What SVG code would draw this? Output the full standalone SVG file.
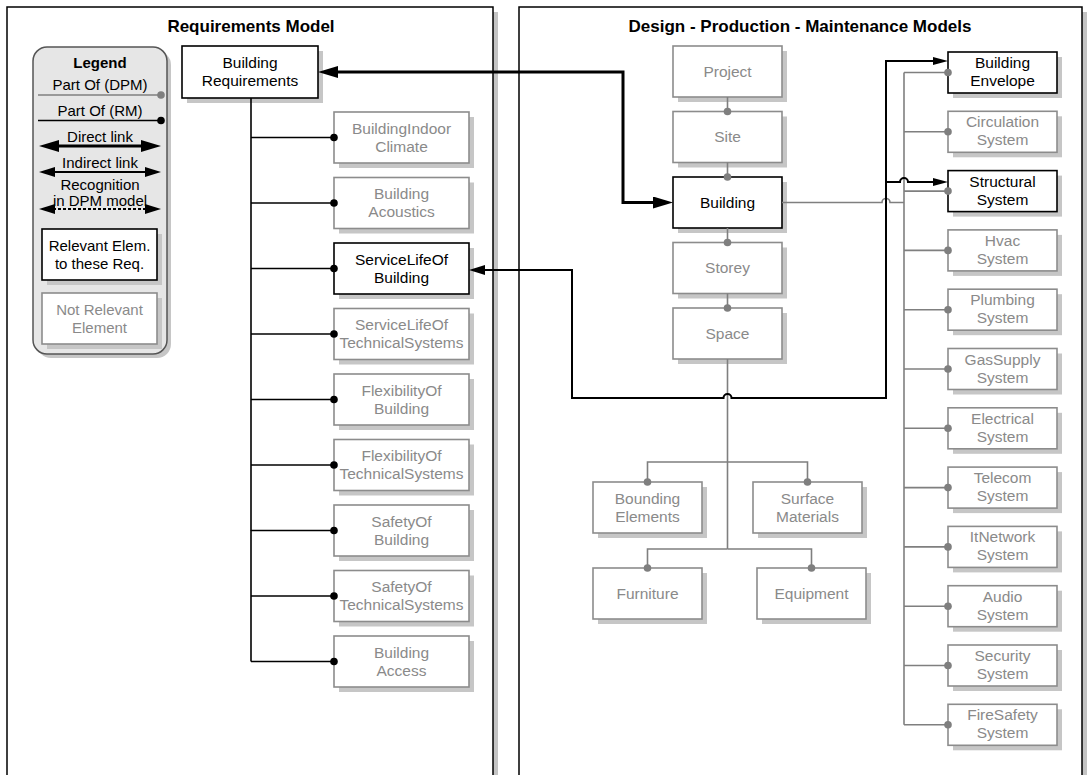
<svg xmlns="http://www.w3.org/2000/svg" width="1087" height="775" viewBox="0 0 1087 775">
  <defs>
    <style>
      .panel { fill: #fff; stroke: #000; stroke-width: 1.5; }
      .pshadow { fill: #c4c4c4; }
      .shadow { fill: #c6c6c6; }
      .box { fill: #fff; stroke: #000; stroke-width: 1.6; }
      .box.off { stroke: #8c8c8c; }
      .t { font-family: "Liberation Sans", Arial, sans-serif; font-size: 15.5px; text-anchor: middle; fill: #000; }
      .hdr { font-family: "Liberation Sans", Arial, sans-serif; font-size: 17px; font-weight: bold; text-anchor: middle; fill: #000; }
      .lg { font-family: "Liberation Sans", Arial, sans-serif; font-size: 15px; text-anchor: middle; fill: #000; }
      .t.toff, .lg.toff { fill: #8a8a8a; }
      .rm { fill: none; stroke: #000; stroke-width: 1.6; }
      .dpm { fill: none; stroke: #7f7f7f; stroke-width: 1.6; }
      .direct { fill: none; stroke: #000; stroke-width: 3; }
      .indirect { fill: none; stroke: #000; stroke-width: 2; }
      .recog { fill: none; stroke: #000; stroke-width: 2; stroke-dasharray: 3 2; }
    </style>
    <marker id="dotK" markerUnits="userSpaceOnUse" viewBox="-5 -5 10 10" markerWidth="10" markerHeight="10" refX="0" refY="0" orient="auto">
      <circle r="3.8" fill="#000"/>
    </marker>
    <marker id="dotG" markerUnits="userSpaceOnUse" viewBox="-5 -5 10 10" markerWidth="10" markerHeight="10" refX="0" refY="0" orient="auto">
      <circle r="3.8" fill="#7f7f7f"/>
    </marker>
    <marker id="arrowBig" markerUnits="userSpaceOnUse" viewBox="0 0 20 12" markerWidth="20" markerHeight="12" refX="2" refY="6" orient="auto-start-reverse">
      <path d="M0,0 L20,6 L0,12 z" fill="#000"/>
    </marker>
    <marker id="arrowMid" markerUnits="userSpaceOnUse" viewBox="0 0 16 10" markerWidth="16" markerHeight="10" refX="2" refY="5" orient="auto-start-reverse">
      <path d="M0,0 L16,5 L0,10 z" fill="#000"/>
    </marker>
    <marker id="arrowSmall" markerUnits="userSpaceOnUse" viewBox="0 0 15 8" markerWidth="15" markerHeight="8" refX="2" refY="4" orient="auto-start-reverse">
      <path d="M0,0 L15,4 L0,8 z" fill="#000"/>
    </marker>
  </defs>

  <rect width="1087" height="775" fill="#fff"/>

  <!-- Panels -->
  <g id="panel-rm">
    <rect class="pshadow" x="12" y="12" width="486" height="775"/>
    <rect class="panel" x="7" y="7" width="486" height="775"/>
    <text class="hdr" x="251" y="32">Requirements Model</text>
  </g>
  <g id="panel-dpm">
    <rect class="pshadow" x="524" y="12" width="563" height="775"/>
    <rect class="panel" x="519" y="7" width="563" height="775"/>
    <text class="hdr" x="800" y="32">Design - Production - Maintenance Models</text>
  </g>

  <!-- Legend -->
  <g id="legend">
    <rect x="37" y="51" width="134" height="307" rx="14" fill="#c6c6c6"/>
    <rect x="33" y="47" width="134" height="307" rx="14" fill="#e6e6e6" stroke="#555" stroke-width="1.5"/>
    <text class="lg" x="100" y="68" font-weight="bold" font-size="16.5">Legend</text>
    <text class="lg" x="100" y="90">Part Of (DPM)</text>
    <path class="dpm" d="M38,95 H161" marker-end="url(#dotG)"/>
    <text class="lg" x="100" y="116">Part Of (RM)</text>
    <path class="rm" d="M38,120.5 H161" marker-end="url(#dotK)"/>
    <text class="lg" x="100" y="142">Direct link</text>
    <path class="direct" d="M57,146 H143" marker-start="url(#arrowBig)" marker-end="url(#arrowBig)"/>
    <text class="lg" x="100" y="168">Indirect link</text>
    <path class="indirect" d="M53,172 H147" marker-start="url(#arrowMid)" marker-end="url(#arrowMid)"/>
    <text class="lg" x="100" y="190">Recognition</text>
    <text class="lg" x="100" y="206">in DPM model</text>
    <path class="recog" d="M53,209 H147" marker-start="url(#arrowMid)" marker-end="url(#arrowMid)"/>
    <rect class="shadow" x="47" y="234" width="115" height="51"/>
    <rect class="box" x="42" y="229" width="115" height="51"/>
    <text class="lg" x="99.5" y="251">Relevant Elem.</text>
    <text class="lg" x="99.5" y="269">to these Req.</text>
    <rect class="shadow" x="47" y="298" width="115" height="51"/>
    <rect class="box off" x="42" y="293" width="115" height="51"/>
    <text class="lg toff" x="99.5" y="315">Not Relevant</text>
    <text class="lg toff" x="99.5" y="333">Element</text>
  </g>

  <!-- Requirements model nodes -->
  <g id="building-requirements">
    <rect class="shadow" x="187" y="51" width="136" height="52"/>
    <rect class="box" x="182" y="46" width="136" height="52"/>
    <text class="t" x="250" y="68">Building</text>
    <text class="t" x="250" y="86">Requirements</text>
  </g>
  <g id="building-indoor-climate">
    <rect class="shadow" x="339" y="117" width="135" height="51"/>
    <rect class="box off" x="334" y="112" width="135" height="51"/>
    <text class="t toff" x="401.5" y="133.5">BuildingIndoor</text>
    <text class="t toff" x="401.5" y="151.5">Climate</text>
  </g>
  <g id="building-acoustics">
    <rect class="shadow" x="339" y="182.5" width="135" height="51"/>
    <rect class="box off" x="334" y="177.5" width="135" height="51"/>
    <text class="t toff" x="401.5" y="199">Building</text>
    <text class="t toff" x="401.5" y="217">Acoustics</text>
  </g>
  <g id="service-life-of-building">
    <rect class="shadow" x="339" y="248" width="135" height="51"/>
    <rect class="box" x="334" y="243" width="135" height="51"/>
    <text class="t" x="401.5" y="264.5">ServiceLifeOf</text>
    <text class="t" x="401.5" y="282.5">Building</text>
  </g>
  <g id="service-life-of-technical-systems">
    <rect class="shadow" x="339" y="313.5" width="135" height="51"/>
    <rect class="box off" x="334" y="308.5" width="135" height="51"/>
    <text class="t toff" x="401.5" y="330">ServiceLifeOf</text>
    <text class="t toff" x="401.5" y="348">TechnicalSystems</text>
  </g>
  <g id="flexibility-of-building">
    <rect class="shadow" x="339" y="379" width="135" height="51"/>
    <rect class="box off" x="334" y="374" width="135" height="51"/>
    <text class="t toff" x="401.5" y="395.5">FlexibilityOf</text>
    <text class="t toff" x="401.5" y="413.5">Building</text>
  </g>
  <g id="flexibility-of-technical-systems">
    <rect class="shadow" x="339" y="444.5" width="135" height="51"/>
    <rect class="box off" x="334" y="439.5" width="135" height="51"/>
    <text class="t toff" x="401.5" y="461">FlexibilityOf</text>
    <text class="t toff" x="401.5" y="479">TechnicalSystems</text>
  </g>
  <g id="safety-of-building">
    <rect class="shadow" x="339" y="510" width="135" height="51"/>
    <rect class="box off" x="334" y="505" width="135" height="51"/>
    <text class="t toff" x="401.5" y="526.5">SafetyOf</text>
    <text class="t toff" x="401.5" y="544.5">Building</text>
  </g>
  <g id="safety-of-technical-systems">
    <rect class="shadow" x="339" y="575.5" width="135" height="51"/>
    <rect class="box off" x="334" y="570.5" width="135" height="51"/>
    <text class="t toff" x="401.5" y="592">SafetyOf</text>
    <text class="t toff" x="401.5" y="610">TechnicalSystems</text>
  </g>
  <g id="building-access">
    <rect class="shadow" x="339" y="641" width="135" height="51"/>
    <rect class="box off" x="334" y="636" width="135" height="51"/>
    <text class="t toff" x="401.5" y="657.5">Building</text>
    <text class="t toff" x="401.5" y="675.5">Access</text>
  </g>

  <!-- Spatial nodes -->
  <g id="project">
    <rect class="shadow" x="678" y="51" width="109" height="51"/>
    <rect class="box off" x="673" y="46" width="109" height="51"/>
    <text class="t toff" x="727.5" y="76.5">Project</text>
  </g>
  <g id="site">
    <rect class="shadow" x="678" y="116.5" width="109" height="51"/>
    <rect class="box off" x="673" y="111.5" width="109" height="51"/>
    <text class="t toff" x="727.5" y="142">Site</text>
  </g>
  <g id="building">
    <rect class="shadow" x="678" y="182" width="109" height="51"/>
    <rect class="box" x="673" y="177" width="109" height="51"/>
    <text class="t" x="727.5" y="207.5">Building</text>
  </g>
  <g id="storey">
    <rect class="shadow" x="678" y="247.5" width="109" height="51"/>
    <rect class="box off" x="673" y="242.5" width="109" height="51"/>
    <text class="t toff" x="727.5" y="273">Storey</text>
  </g>
  <g id="space">
    <rect class="shadow" x="678" y="313" width="109" height="51"/>
    <rect class="box off" x="673" y="308" width="109" height="51"/>
    <text class="t toff" x="727.5" y="338.5">Space</text>
  </g>
  <g id="bounding-elements">
    <rect class="shadow" x="598" y="487" width="109" height="51"/>
    <rect class="box off" x="593" y="482" width="109" height="51"/>
    <text class="t toff" x="647.5" y="503.5">Bounding</text>
    <text class="t toff" x="647.5" y="521.5">Elements</text>
  </g>
  <g id="surface-materials">
    <rect class="shadow" x="758" y="487" width="109" height="51"/>
    <rect class="box off" x="753" y="482" width="109" height="51"/>
    <text class="t toff" x="807.5" y="503.5">Surface</text>
    <text class="t toff" x="807.5" y="521.5">Materials</text>
  </g>
  <g id="furniture">
    <rect class="shadow" x="598" y="573" width="109" height="51"/>
    <rect class="box off" x="593" y="568" width="109" height="51"/>
    <text class="t toff" x="647.5" y="598.5">Furniture</text>
  </g>
  <g id="equipment">
    <rect class="shadow" x="762" y="573" width="109" height="51"/>
    <rect class="box off" x="757" y="568" width="109" height="51"/>
    <text class="t toff" x="811.5" y="598.5">Equipment</text>
  </g>

  <!-- Building system nodes -->
  <g id="building-envelope">
    <rect class="shadow" x="953" y="57" width="109" height="41"/>
    <rect class="box" x="948" y="52" width="109" height="41"/>
    <text class="t" x="1002.5" y="68">Building</text>
    <text class="t" x="1002.5" y="86">Envelope</text>
  </g>
  <g id="circulation-system">
    <rect class="shadow" x="953" y="116.3" width="109" height="41"/>
    <rect class="box off" x="948" y="111.3" width="109" height="41"/>
    <text class="t toff" x="1002.5" y="127.3">Circulation</text>
    <text class="t toff" x="1002.5" y="145.3">System</text>
  </g>
  <g id="structural-system">
    <rect class="shadow" x="953" y="175.6" width="109" height="41"/>
    <rect class="box" x="948" y="170.6" width="109" height="41"/>
    <text class="t" x="1002.5" y="186.6">Structural</text>
    <text class="t" x="1002.5" y="204.6">System</text>
  </g>
  <g id="hvac-system">
    <rect class="shadow" x="953" y="234.9" width="109" height="41"/>
    <rect class="box off" x="948" y="229.9" width="109" height="41"/>
    <text class="t toff" x="1002.5" y="245.9">Hvac</text>
    <text class="t toff" x="1002.5" y="263.9">System</text>
  </g>
  <g id="plumbing-system">
    <rect class="shadow" x="953" y="294.2" width="109" height="41"/>
    <rect class="box off" x="948" y="289.2" width="109" height="41"/>
    <text class="t toff" x="1002.5" y="305.2">Plumbing</text>
    <text class="t toff" x="1002.5" y="323.2">System</text>
  </g>
  <g id="gas-supply-system">
    <rect class="shadow" x="953" y="353.5" width="109" height="41"/>
    <rect class="box off" x="948" y="348.5" width="109" height="41"/>
    <text class="t toff" x="1002.5" y="364.5">GasSupply</text>
    <text class="t toff" x="1002.5" y="382.5">System</text>
  </g>
  <g id="electrical-system">
    <rect class="shadow" x="953" y="412.8" width="109" height="41"/>
    <rect class="box off" x="948" y="407.8" width="109" height="41"/>
    <text class="t toff" x="1002.5" y="423.8">Electrical</text>
    <text class="t toff" x="1002.5" y="441.8">System</text>
  </g>
  <g id="telecom-system">
    <rect class="shadow" x="953" y="472.1" width="109" height="41"/>
    <rect class="box off" x="948" y="467.1" width="109" height="41"/>
    <text class="t toff" x="1002.5" y="483.1">Telecom</text>
    <text class="t toff" x="1002.5" y="501.1">System</text>
  </g>
  <g id="itnetwork-system">
    <rect class="shadow" x="953" y="531.4" width="109" height="41"/>
    <rect class="box off" x="948" y="526.4" width="109" height="41"/>
    <text class="t toff" x="1002.5" y="542.4">ItNetwork</text>
    <text class="t toff" x="1002.5" y="560.4">System</text>
  </g>
  <g id="audio-system">
    <rect class="shadow" x="953" y="590.7" width="109" height="41"/>
    <rect class="box off" x="948" y="585.7" width="109" height="41"/>
    <text class="t toff" x="1002.5" y="601.7">Audio</text>
    <text class="t toff" x="1002.5" y="619.7">System</text>
  </g>
  <g id="security-system">
    <rect class="shadow" x="953" y="650" width="109" height="41"/>
    <rect class="box off" x="948" y="645" width="109" height="41"/>
    <text class="t toff" x="1002.5" y="661">Security</text>
    <text class="t toff" x="1002.5" y="679">System</text>
  </g>
  <g id="firesafety-system">
    <rect class="shadow" x="953" y="709.3" width="109" height="41"/>
    <rect class="box off" x="948" y="704.3" width="109" height="41"/>
    <text class="t toff" x="1002.5" y="720.3">FireSafety</text>
    <text class="t toff" x="1002.5" y="738.3">System</text>
  </g>

  <!-- Connectors (drawn last so the end dots sit on top of the box edges) -->
  <g id="connectors">
    <!-- requirements model part-of tree -->
    <path class="rm" d="M251,98 V530.5" stroke-width="3"/>
    <path class="rm" d="M251,530 V661.5" stroke-width="2"/>
    <path class="rm" d="M251,137.5 H334" marker-end="url(#dotK)"/>
    <path class="rm" d="M251,203 H334" marker-end="url(#dotK)"/>
    <path class="rm" d="M251,268.5 H334" marker-end="url(#dotK)"/>
    <path class="rm" d="M251,334 H334" marker-end="url(#dotK)"/>
    <path class="rm" d="M251,399.5 H334" marker-end="url(#dotK)"/>
    <path class="rm" d="M251,465 H334" marker-end="url(#dotK)"/>
    <path class="rm" d="M251,530.5 H334" marker-end="url(#dotK)"/>
    <path class="rm" d="M251,596 H334" marker-end="url(#dotK)"/>
    <path class="rm" d="M251,661.5 H334" marker-end="url(#dotK)"/>

    <!-- spatial decomposition -->
    <path class="dpm" d="M727.5,97 V111.5" marker-end="url(#dotG)"/>
    <path class="dpm" d="M727.5,162.5 V177" marker-end="url(#dotG)"/>
    <path class="dpm" d="M727.5,228 V242.5" marker-end="url(#dotG)"/>
    <path class="dpm" d="M727.5,293.5 V308" marker-end="url(#dotG)"/>
    <path class="dpm" d="M727.5,359 V549"/>
    <path class="dpm" d="M727.5,462 H647.5 V482" marker-end="url(#dotG)"/>
    <path class="dpm" d="M727.5,462 H807.5 V482" marker-end="url(#dotG)"/>
    <path class="dpm" d="M727.5,549 H647.5 V568" marker-end="url(#dotG)"/>
    <path class="dpm" d="M727.5,549 H811.5 V568" marker-end="url(#dotG)"/>

    <!-- building systems -->
    <path class="dpm" d="M904,72.5 V724.8"/>
    <path class="dpm" d="M782,202.5 H882 A4,4 0 0 1 890,202.5 H904"/>
    <path class="dpm" d="M904,72.5 H948" marker-end="url(#dotG)"/>
    <path class="dpm" d="M904,131.8 H948" marker-end="url(#dotG)"/>
    <path class="dpm" d="M904,191.1 H948" marker-end="url(#dotG)"/>
    <path class="dpm" d="M904,250.4 H948" marker-end="url(#dotG)"/>
    <path class="dpm" d="M904,309.7 H948" marker-end="url(#dotG)"/>
    <path class="dpm" d="M904,369 H948" marker-end="url(#dotG)"/>
    <path class="dpm" d="M904,428.3 H948" marker-end="url(#dotG)"/>
    <path class="dpm" d="M904,487.6 H948" marker-end="url(#dotG)"/>
    <path class="dpm" d="M904,546.9 H948" marker-end="url(#dotG)"/>
    <path class="dpm" d="M904,606.2 H948" marker-end="url(#dotG)"/>
    <path class="dpm" d="M904,665.5 H948" marker-end="url(#dotG)"/>
    <path class="dpm" d="M904,724.8 H948" marker-end="url(#dotG)"/>

    <!-- direct link: Building Requirements <-> Building -->
    <path class="direct" d="M336,72 H623 V202.5 H655" marker-start="url(#arrowBig)" marker-end="url(#arrowBig)"/>

    <!-- indirect link: ServiceLifeOf Building <-> envelope / structure -->
    <path class="indirect" d="M483,270 H572 V398 H723.5 A4,4 0 0 1 731.5,398 H886 V61 H935" marker-start="url(#arrowMid)" marker-end="url(#arrowSmall)"/>
    <path class="indirect" d="M886,182 H900 A4,4 0 0 1 908,182 H935" marker-end="url(#arrowSmall)"/>
  </g>
</svg>
